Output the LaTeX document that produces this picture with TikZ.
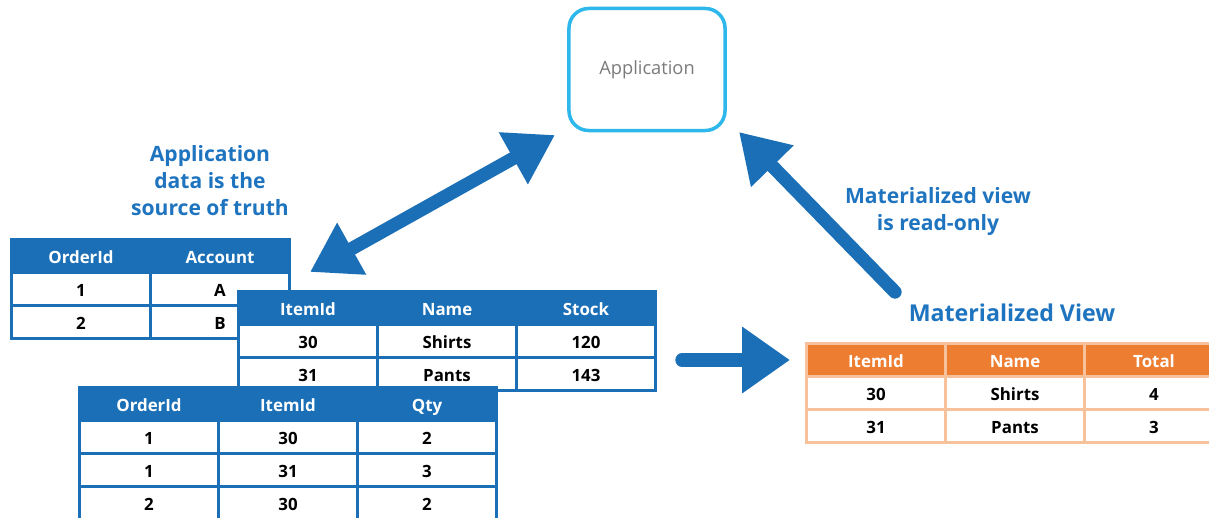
\documentclass[tikz,border=0pt]{standalone}
\usepackage{fontspec}
\setmainfont{Open Sans}
\usetikzlibrary{arrows.meta, positioning}
\usepackage{xcolor}
\definecolor{tblue}{HTML}{1B6FB6}
\definecolor{nblue}{HTML}{1F74BF}
\definecolor{appline}{HTML}{2DB7EA}
\definecolor{apptext}{HTML}{7A7A7A}
\definecolor{mvorange}{HTML}{ED7D31}
\definecolor{mvpeach}{HTML}{F7C19B}
\def\cellw{3.4cm}
\def\cellh{0.75cm}

\begin{document}
\begin{tikzpicture}[x=0.025cm, y=-0.025cm]
    \tikzstyle{frame}=[rectangle, inner sep=0pt, fill=tblue]
    \tikzstyle{mvframe}=[frame, fill=mvpeach]
    \tikzstyle{cell}=[rectangle, fill=white, minimum width=\cellw, minimum height=\cellh, inner sep=0pt, text height=11pt, text depth=0.5pt, font=\fontsize{12}{14}\selectfont\bfseries]
    \tikzstyle{head}=[cell, fill=tblue, text=white]
    \tikzstyle{mvhead}=[cell, fill=mvorange, text=white]
    \tikzstyle{note}=[text=nblue, align=center, font=\fontsize{15}{19.2}\selectfont\bfseries]
    \tikzstyle{app}=[rectangle, rounded corners=14pt, draw=appline, line width=2.5pt, minimum width=3.9cm, minimum height=3.05cm, text=apptext, font=\fontsize{13}{15}\selectfont]
    \tikzstyle{fat arrow}=[draw=tblue, line width=9.5pt, line cap=round, -{Triangle[length=34pt, width=40pt]}]

    \useasboundingbox (0,0) rectangle (1209,518);
    \clip (0,0) rectangle (1209,518);

    \node[app] (App) at (647,69.5) {Application};

    \node[note] (N-src) at (210,180.5) {Application\\data is the\\source of truth};
    \node[note] (N-ro) at (938,212) {Materialized view\\is read-only};
    \node[note, font=\fontsize{16.5}{20}\selectfont\bfseries] (N-mv) at (1012,313) {Materialized View};

    % orders
    \node[frame, minimum width=7.025cm, minimum height=2.55cm] (Ord) at (150.5,289) {};
    \node[head] (Ord-0-1) at (81,256) {OrderId};
    \node[head] (Ord-0-2) at (220,256) {Account};
    \node[cell] (Ord-1-1) at (81,289) {1};
    \node[cell] (Ord-1-2) at (220,289) {A};
    \node[cell] (Ord-2-1) at (81,322) {2};
    \node[cell] (Ord-2-2) at (220,322) {B};

    % items
    \node[frame, minimum width=10.5cm, minimum height=2.55cm] (Item) at (447,341) {};
    \node[head] (Item-0-1) at (308,308) {ItemId};
    \node[head] (Item-0-2) at (447,308) {Name};
    \node[head] (Item-0-3) at (586,308) {Stock};
    \node[cell] (Item-1-1) at (308,341) {30};
    \node[cell] (Item-1-2) at (447,341) {Shirts};
    \node[cell] (Item-1-3) at (586,341) {120};
    \node[cell] (Item-2-1) at (308,374) {31};
    \node[cell] (Item-2-2) at (447,374) {Pants};
    \node[cell] (Item-2-3) at (586,374) {143};

    % order lines
    \node[frame, minimum width=10.5cm, minimum height=3.375cm] (Line) at (288,453.5) {};
    \node[head] (Line-0-1) at (149,404) {OrderId};
    \node[head] (Line-0-2) at (288,404) {ItemId};
    \node[head] (Line-0-3) at (427,404) {Qty};
    \node[cell] (Line-1-1) at (149,437) {1};
    \node[cell] (Line-1-2) at (288,437) {30};
    \node[cell] (Line-1-3) at (427,437) {2};
    \node[cell] (Line-2-1) at (149,470) {1};
    \node[cell] (Line-2-2) at (288,470) {31};
    \node[cell] (Line-2-3) at (427,470) {3};
    \node[cell] (Line-3-1) at (149,503) {2};
    \node[cell] (Line-3-2) at (288,503) {30};
    \node[cell] (Line-3-3) at (427,503) {2};

    % materialized view
    \node[mvframe, minimum width=10.5cm, minimum height=2.55cm] (MV) at (1015,393) {};
    \node[mvhead] (MV-0-1) at (876,360) {ItemId};
    \node[mvhead] (MV-0-2) at (1015,360) {Name};
    \node[mvhead] (MV-0-3) at (1154,360) {Total};
    \node[cell] (MV-1-1) at (876,393) {30};
    \node[cell] (MV-1-2) at (1015,393) {Shirts};
    \node[cell] (MV-1-3) at (1154,393) {4};
    \node[cell] (MV-2-1) at (876,426) {31};
    \node[cell] (MV-2-2) at (1015,426) {Pants};
    \node[cell] (MV-2-3) at (1154,426) {3};

    \coordinate (src-a) at (310,272);
    \coordinate (src-b) at (555,135);
    \coordinate (ro-a) at (895,292);
    \coordinate (ro-b) at (739,132);
    \coordinate (mv-a) at (682,360);
    \coordinate (mv-b) at (790,360);

    \draw[fat arrow, {Triangle[length=34pt, width=40pt]}-{Triangle[length=34pt, width=40pt]}] (src-a) -- (src-b);
    \draw[fat arrow] (ro-a) -- (ro-b);
    \draw[fat arrow, -{Triangle[length=34pt, width=45pt]}] (mv-a) -- (mv-b);

\end{tikzpicture}
\end{document}
